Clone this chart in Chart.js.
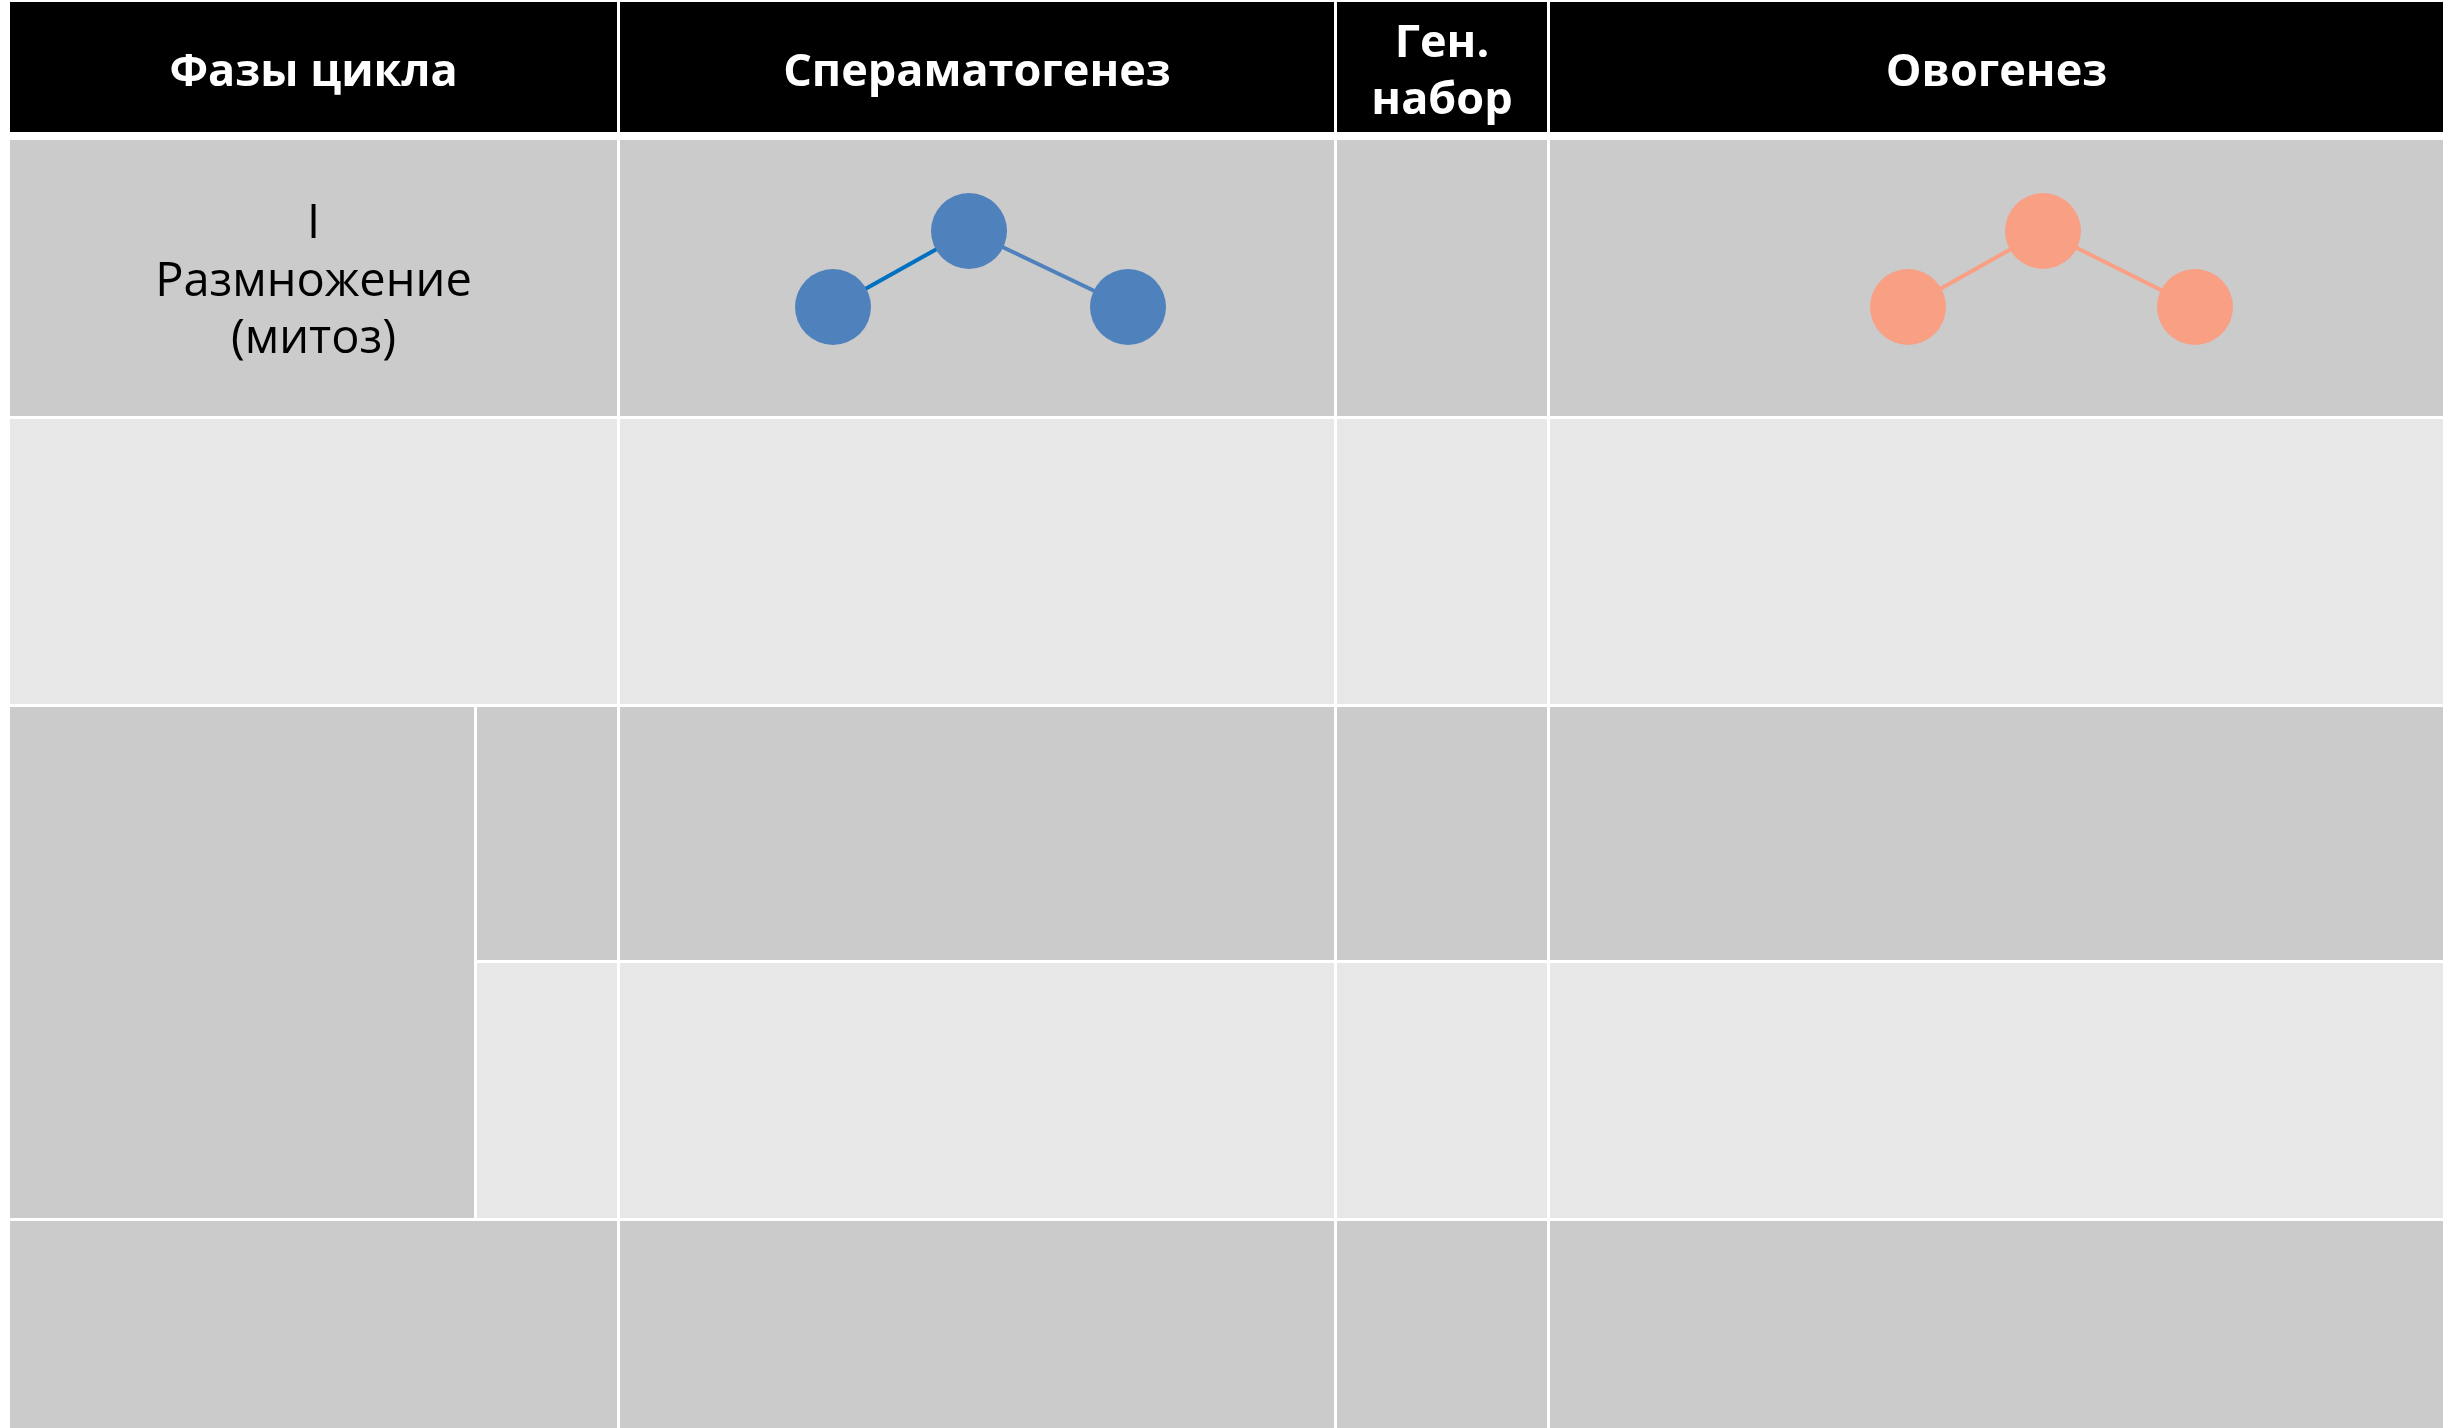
<!DOCTYPE html>
<html lang="ru">
<head>
<meta charset="utf-8">
<title>Фазы гаметогенеза</title>
<script src="https://cdn.jsdelivr.net/npm/chart.js@4.4.1/dist/chart.umd.min.js"></script>
<style>
  html, body { margin: 0; padding: 0; background: #fff; }
  canvas { display: block; }
</style>
</head>
<body>
<canvas id="table-chart" width="2443" height="1428"></canvas>
<script>
// column headers (one entry per line)
const headers    = [['Фазы цикла'], ['Спераматогенез'], ['Ген.', 'набор'], ['Овогенез']]
// label of the first phase row
const phaseLabel = ['I', 'Размножение', '(митоз)']

// mitosis sketch: parent cell on top, two daughter cells below
const spermX = [833, 969, 1128]
const spermY = [307, 231, 307]
const oogX   = [1908, 2043, 2195]
const oogY   = [307, 231, 307]

// ---- layout (table units = canvas px) ----
const W = 2443, H = 1428
const DARK  = '#cbcbcb'
const LIGHT = '#e7e7e7'
const COLS  = [[10, 617], [620, 1334], [1337, 1547], [1550, W]]
const HEAD  = [2, 132]
const SUB   = [477, 617]      // narrow sub column in the split rows
const MERGE = [10, 474]       // merged phase cell over the split rows

function buildCells() {
  const cells = []
  const rows = [
    { y: [140, 416],  fill: DARK,  split: false },
    { y: [419, 704],  fill: LIGHT, split: false },
    { y: [707, 960],  fill: DARK,  split: true },
    { y: [963, 1218], fill: LIGHT, split: true },
    { y: [1221, H],   fill: DARK,  split: false }
  ]
  COLS.forEach(c => cells.push({ x: c, y: HEAD, fill: '#000' }))
  rows.forEach(r => {
    COLS.forEach((c, i) => {
      const x = (i === 0 && r.split) ? SUB : c
      cells.push({ x, y: r.y, fill: r.fill })
    })
  })
  cells.push({ x: MERGE, y: [707, 1218], fill: DARK })
  return cells
}

const cells = buildCells()

const tablePlugin = {
  id: 'tableGrid',
  beforeDatasetsDraw(chart) {
    const { ctx, scales: { x, y } } = chart
    ctx.save()
    ctx.fillStyle = '#fff'
    ctx.fillRect(0, 0, chart.width, chart.height)

    cells.forEach(c => {
      const x0 = x.getPixelForValue(c.x[0]), x1 = x.getPixelForValue(c.x[1])
      const y0 = y.getPixelForValue(c.y[0]), y1 = y.getPixelForValue(c.y[1])
      ctx.fillStyle = c.fill
      ctx.fillRect(x0, y0, x1 - x0, y1 - y0)
    })

    // header text
    ctx.fillStyle = '#fff'
    ctx.textAlign = 'center'
    ctx.textBaseline = 'alphabetic'
    headers.forEach((lines, i) => {
      const cx = x.getPixelForValue((COLS[i][0] + COLS[i][1]) / 2)
      const two = lines.length > 1
      const base = two ? [57, 114] : [86]
      ctx.font = two ? 'bold 45px "Open Sans", sans-serif' : 'bold 45px "Open Sans", sans-serif'
      lines.forEach((t, j) => ctx.fillText(t, cx, y.getPixelForValue(base[j])))
    })

    // first row label
    ctx.fillStyle = '#000'
    ctx.font = '47px "Open Sans", sans-serif'
    const lx = x.getPixelForValue((COLS[0][0] + COLS[0][1]) / 2)
    const lineBase = [238, 296, 353]
    phaseLabel.forEach((t, j) => ctx.fillText(t, lx, y.getPixelForValue(lineBase[j])))
    ctx.restore()
  }
}

const toPoints = (xs, ys) => xs.map((v, i) => ({ x: v, y: ys[i] }))

new Chart(document.getElementById('table-chart'), {
  type: 'scatter',
  data: {
    datasets: [
      {
        label: 'Спераматогенез',
        data: toPoints(spermX, spermY),
        showLine: true,
        borderWidth: 4,
        borderColor: '#4f81bd',
        segment: { borderColor: ctx => ctx.p0DataIndex === 0 ? '#0070c0' : '#4f81bd' },
        pointRadius: 38,
        pointHoverRadius: 38,
        pointBorderWidth: 0,
        pointBackgroundColor: '#4f81bd'
      },
      {
        label: 'Овогенез',
        data: toPoints(oogX, oogY),
        showLine: true,
        borderWidth: 4,
        borderColor: '#f89f84',
        pointRadius: 38,
        pointHoverRadius: 38,
        pointBorderWidth: 0,
        pointBackgroundColor: '#f89f84'
      }
    ]
  },
  options: {
    responsive: false,
    animation: false,
    events: [],
    layout: { padding: 0, autoPadding: false },
    scales: {
      x: { type: 'linear', min: 0, max: W, display: false },
      y: { type: 'linear', min: 0, max: H, reverse: true, display: false }
    },
    plugins: {
      legend: { display: false },
      tooltip: { enabled: false }
    }
  },
  plugins: [tablePlugin]
})
</script>
</body>
</html>
